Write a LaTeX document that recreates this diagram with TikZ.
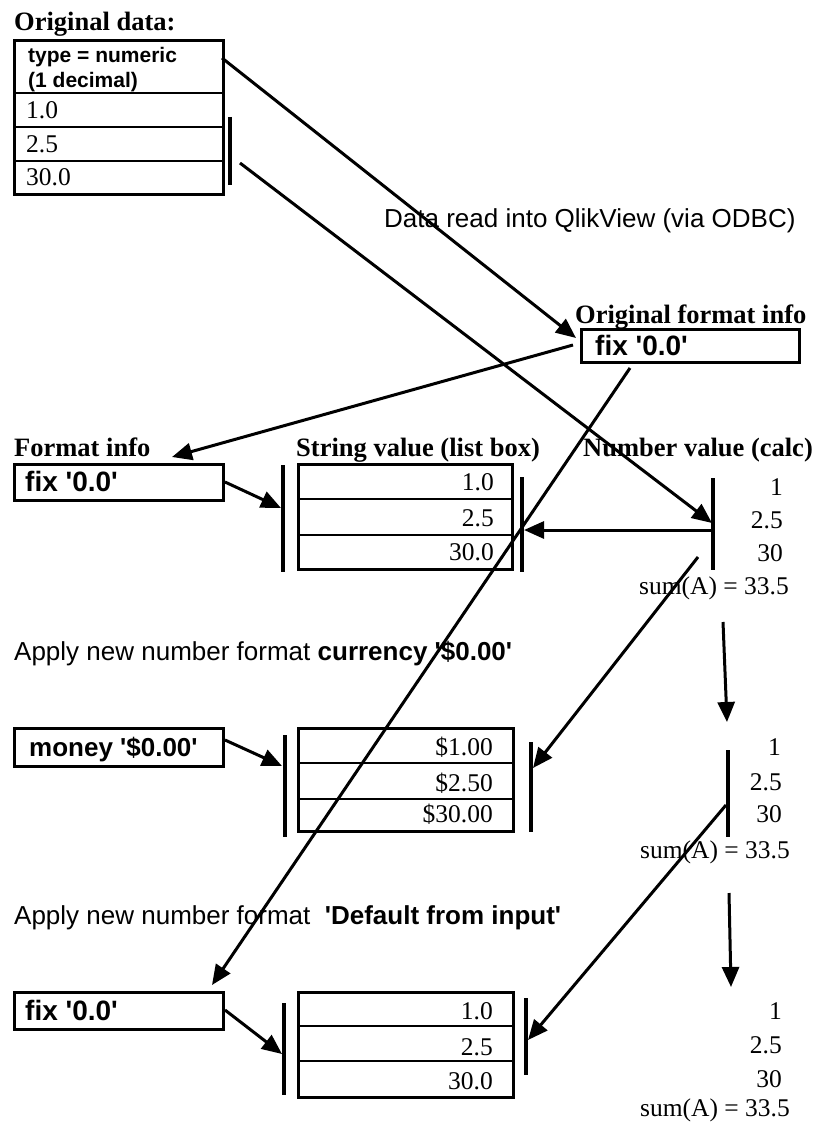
\documentclass[tikz,border=0pt]{standalone}
\usepackage{fontspec}
\setmainfont{Liberation Serif}
\newfontfamily\arialf{Liberation Sans}
\usetikzlibrary{arrows.meta}
\begin{document}
\begin{tikzpicture}[x=1pt,y=-1pt,
  box/.style={draw, line width=3.4pt, inner sep=0pt, anchor=north west},
  fmtbox/.style={draw, line width=3pt, inner sep=0pt, anchor=north west},
  sep/.style={line width=2pt},
  bar/.style={line width=3.2pt},
  arr/.style={line width=3pt, -{Triangle[length=20pt,width=17pt]}},
  ttl/.style={font=\fontsize{26.5}{30}\selectfont\bfseries, anchor=base west, inner sep=0pt},
  val/.style={font=\fontsize{25.5}{30}\selectfont, anchor=base east, inner sep=0pt},
  valw/.style={font=\fontsize{25.5}{30}\selectfont, anchor=base west, inner sep=0pt},
  sans/.style={font=\arialf\fontsize{26}{30}\selectfont, anchor=base west, inner sep=0pt},
  sansb/.style={font=\arialf\bfseries\fontsize{26}{30}\selectfont, anchor=base west, inner sep=0pt},
  sansfix/.style={font=\arialf\bfseries\fontsize{28}{32}\selectfont, anchor=base west, inner sep=0pt},
  hdr/.style={font=\arialf\bfseries\fontsize{21}{24}\selectfont, anchor=base west, inner sep=0pt},
  ]
\useasboundingbox (0,0) rectangle (814,1123);

% ---------- Original data ----------
\node[ttl] (t-od) at (14,31) {Original data:};
\node[box, minimum width=209pt, minimum height=154pt] (od) at (13,39) {};
\draw[sep] (13,93) -- (222,93);
\draw[sep] (13,127) -- (222,127);
\draw[sep] (13,161) -- (222,161);
\node[hdr] (od-h1) at (28,63) {type = numeric};
\node[hdr] (od-h2) at (28,88) {(1 decimal)};
\node[valw] (od-v1) at (26,119) {1.0};
\node[valw] (od-v2) at (26,153) {2.5};
\node[valw] (od-v3) at (26,186) {30.0};
\draw[bar] (230,117) -- (230,185);

\node[sans] (t-read) at (384,228) {Data read into QlikView (via ODBC)};

% ---------- Original format info ----------
\node[ttl] (t-ofi) at (575,323) {Original format info};
\node[fmtbox, minimum width=218pt, minimum height=33pt] (ofi) at (580,328) {};
\node[sansfix] (ofi-t) at (595,355) {fix '0.0'};

% ---------- Row 1 ----------
\node[ttl] (t-fi) at (14,456) {Format info};
\node[ttl] (t-sv) at (296,456) {String value (list box)};
\node[ttl] (t-nv) at (583,456) {Number value (calc)};
\node[fmtbox, minimum width=209pt, minimum height=36pt] (f1) at (13,463) {};
\node[sansfix] (f1-t) at (25,491) {fix '0.0'};
\node[box, minimum width=214pt, minimum height=105pt] (s1) at (297,463) {};
\draw[sep] (297,499) -- (511,499);
\draw[sep] (297,535) -- (511,535);
\node[val] (s1-v1) at (494,490) {1.0};
\node[val] (s1-v2) at (494,526) {2.5};
\node[val] (s1-v3) at (494,560) {30.0};
\draw[bar] (283,465) -- (283,572);
\draw[bar] (522,477) -- (522,572);
\draw[bar] (713,478) -- (713,570);
\node[val] (n1-1) at (783,495) {1};
\node[val] (n1-2) at (783,528) {2.5};
\node[val] (n1-3) at (783,561) {30};
\node[val] (n1-s) at (789,594) {sum(A) = 33.5};

% ---------- Row 2 ----------
\node[sans] (t-ap1) at (14,660) {Apply new number format \textbf{currency '\$0.00'}};
\node[fmtbox, minimum width=209pt, minimum height=38pt] (f2) at (13,727) {};
\node[sansb] (f2-t) at (29,756) {money '\$0.00'};
\node[box, minimum width=215pt, minimum height=103pt] (s2) at (297,727) {};
\draw[sep] (297,763) -- (512,763);
\draw[sep] (297,799) -- (512,799);
\node[val] (s2-v1) at (493,755) {\$1.00};
\node[val] (s2-v2) at (493,791) {\$2.50};
\node[val] (s2-v3) at (493,822) {\$30.00};
\draw[bar] (285,735) -- (285,837);
\draw[bar] (531,742) -- (531,832);
\draw[bar] (728,750) -- (728,837);
\node[val] (n2-1) at (781,755) {1};
\node[val] (n2-2) at (782,790) {2.5};
\node[val] (n2-3) at (782,822) {30};
\node[val] (n2-s) at (790,858) {sum(A) = 33.5};

% ---------- Row 3 ----------
\node[sans] (t-ap2) at (14,924) {Apply new number format \ \textbf{'Default from input'}};
\node[fmtbox, minimum width=209pt, minimum height=37pt] (f3) at (13,991) {};
\node[sansfix] (f3-t) at (25,1020) {fix '0.0'};
\node[box, minimum width=215pt, minimum height=105pt] (s3) at (297,991) {};
\draw[sep] (297,1026) -- (512,1026);
\draw[sep] (297,1061) -- (512,1061);
\node[val] (s3-v1) at (493,1019) {1.0};
\node[val] (s3-v2) at (493,1055) {2.5};
\node[val] (s3-v3) at (493,1089) {30.0};
\draw[bar] (284,1003) -- (284,1095);
\draw[bar] (526,998) -- (526,1075);
\node[val] (n3-1) at (782,1019) {1};
\node[val] (n3-2) at (782,1053) {2.5};
\node[val] (n3-3) at (782,1087) {30};
\node[val] (n3-s) at (790,1116) {sum(A) = 33.5};

% ---------- connector end points ----------
\coordinate (p1a) at (222,58);   \coordinate (p1b) at (576,338);
\coordinate (p2a) at (240,163);  \coordinate (p2b) at (712,523);
\coordinate (p3a) at (573,345);  \coordinate (p3b) at (172,457);
\coordinate (p4a) at (630,368);  \coordinate (p4b) at (212,985);
\coordinate (p5a) at (225,482);  \coordinate (p5b) at (281,508);
\coordinate (p6a) at (713,530);  \coordinate (p6b) at (524,530);
\coordinate (p7a) at (698,557);  \coordinate (p7b) at (533,768);
\coordinate (p8a) at (723,622);  \coordinate (p8b) at (727,722);
\coordinate (p9a) at (225,740);  \coordinate (p9b) at (282,766);
\coordinate (p10a) at (726,805); \coordinate (p10b) at (528,1040);
\coordinate (p11a) at (729,893); \coordinate (p11b) at (731,987);
\coordinate (p12a) at (225,1010);\coordinate (p12b) at (282,1054);

\draw[arr] (p1a) -- (p1b);
\draw[arr] (p2a) -- (p2b);
\draw[arr] (p3a) -- (p3b);
\draw[arr] (p4a) -- (p4b);
\draw[arr] (p5a) -- (p5b);
\draw[arr] (p6a) -- (p6b);
\draw[arr] (p7a) -- (p7b);
\draw[arr] (p8a) -- (p8b);
\draw[arr] (p9a) -- (p9b);
\draw[arr] (p10a) -- (p10b);
\draw[arr] (p11a) -- (p11b);
\draw[arr] (p12a) -- (p12b);
\end{tikzpicture}
\end{document}
